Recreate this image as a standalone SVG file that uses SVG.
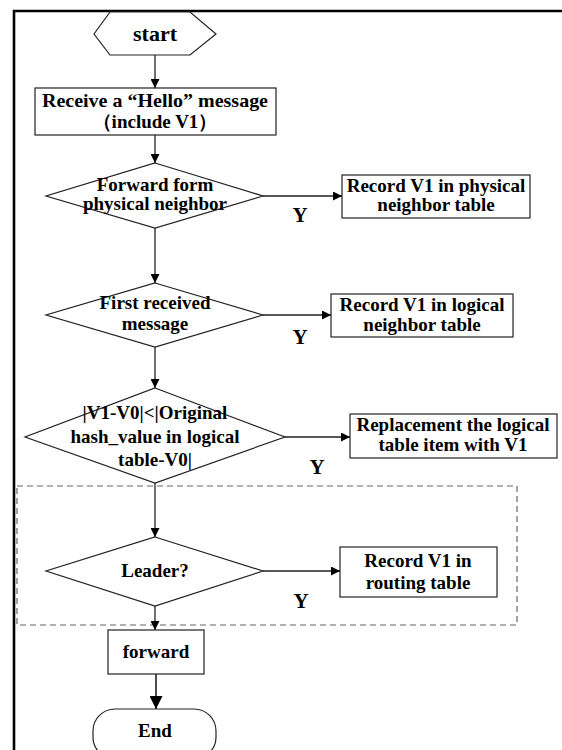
<svg xmlns="http://www.w3.org/2000/svg" width="562" height="750" viewBox="0 0 562 750">
  <defs>
    <marker id="arrow" viewBox="0 0 10 10" refX="10" refY="5" markerWidth="10" markerHeight="9" markerUnits="userSpaceOnUse" orient="auto">
      <path d="M0,0 L10,5 L0,10 z" fill="#000"/>
    </marker>
    <marker id="arrowBig" viewBox="0 0 10 10" refX="10" refY="5" markerWidth="15" markerHeight="13" markerUnits="userSpaceOnUse" orient="auto">
      <path d="M0,0 L10,5 L0,10 z" fill="#000"/>
    </marker>
  </defs>
  <style>
    .shape { fill: #fff; stroke: #222; stroke-width: 1.2; }
    .edge { fill: none; stroke: #222; stroke-width: 1.3; marker-end: url(#arrow); }
    .edge-big { fill: none; stroke: #222; stroke-width: 1.6; marker-end: url(#arrowBig); }
    .label { font-family: "Liberation Serif", "Times New Roman", serif; font-weight: bold; font-size: 19px; fill: #000; text-anchor: middle; }
    .yes { font-family: "Liberation Serif", "Times New Roman", serif; font-weight: bold; font-size: 21px; fill: #000; text-anchor: middle; }
  </style>

  <rect x="0" y="0" width="562" height="750" fill="#fff"/>

  <!-- outer frame (top and left edges) -->
  <path d="M14,750 L14,11 L562,11" fill="none" stroke="#000" stroke-width="2.6"/>

  <!-- leader check region -->
  <rect id="leader-region" x="17" y="486" width="500" height="139" fill="none" stroke="#666" stroke-width="1.2" stroke-dasharray="6,4"/>

  <g id="start">
    <polygon class="shape" points="94,34 110,12 190,12 216,34 190,55 110,55"/>
    <text class="label" x="155" y="41" style="font-size:22px">start</text>
  </g>

  <g id="receive">
    <rect class="shape" x="35" y="88" width="241" height="47"/>
    <text class="label" x="155" y="107" textLength="226" lengthAdjust="spacingAndGlyphs">Receive a “Hello”  message</text>
    <text class="label" x="155" y="128">（include V1）</text>
  </g>

  <g id="forward-check">
    <polygon class="shape" points="155,163 263,196 155,228 46,196"/>
    <text class="label" x="155" y="191">Forward form</text>
    <text class="label" x="155" y="210">physical neighbor</text>
  </g>

  <g id="record-physical">
    <rect class="shape" x="342" y="175" width="188" height="43"/>
    <text class="label" x="436" y="192">Record V1 in physical</text>
    <text class="label" x="436" y="211">neighbor table</text>
  </g>

  <g id="first-check">
    <polygon class="shape" points="155,283 263,315 155,347 46,315"/>
    <text class="label" x="155" y="309">First received</text>
    <text class="label" x="155" y="330">message</text>
  </g>

  <g id="record-logical">
    <rect class="shape" x="331" y="294" width="182" height="43"/>
    <text class="label" x="422" y="311">Record V1 in logical</text>
    <text class="label" x="422" y="331">neighbor table</text>
  </g>

  <g id="hash-check">
    <polygon class="shape" points="155,388 285,437 155,483 25,437"/>
    <text class="label" x="155" y="419">|V1-V0|&lt;|Original</text>
    <text class="label" x="155" y="443">hash_value in logical</text>
    <text class="label" x="155" y="466">table-V0|</text>
  </g>

  <g id="replace-logical">
    <rect class="shape" x="350" y="414" width="207" height="44"/>
    <text class="label" x="453" y="431">Replacement the logical</text>
    <text class="label" x="453" y="451">table item with V1</text>
  </g>

  <g id="leader-check">
    <polygon class="shape" points="155,537 263,571 155,606 46,571"/>
    <text class="label" x="155" y="577">Leader?</text>
  </g>

  <g id="record-routing">
    <rect class="shape" x="340" y="547" width="157" height="50"/>
    <text class="label" x="418" y="567">Record V1 in</text>
    <text class="label" x="418" y="589">routing table</text>
  </g>

  <g id="forward">
    <rect class="shape" x="108" y="630" width="96" height="44"/>
    <text class="label" x="156" y="658">forward</text>
  </g>

  <g id="end">
    <rect class="shape" x="93" y="709" width="123" height="50" rx="22" ry="22"/>
    <text class="label" x="155" y="737">End</text>
  </g>

  <g id="connectors">
    <line class="edge" x1="155" y1="55" x2="155" y2="88"/>
    <line class="edge" x1="155" y1="135" x2="155" y2="163"/>
    <line class="edge" x1="263" y1="196" x2="342" y2="196"/>
    <line class="edge" x1="155" y1="228" x2="155" y2="283"/>
    <line class="edge" x1="263" y1="315" x2="331" y2="315"/>
    <line class="edge" x1="155" y1="347" x2="155" y2="388"/>
    <line class="edge" x1="285" y1="437" x2="350" y2="437"/>
    <line class="edge" x1="155" y1="483" x2="155" y2="537"/>
    <line class="edge" x1="263" y1="571" x2="340" y2="571"/>
    <line class="edge" x1="155" y1="606" x2="155" y2="630"/>
    <line class="edge-big" x1="156" y1="674" x2="156" y2="709"/>
  </g>

  <g id="yes-labels">
    <text class="yes" x="300" y="222">Y</text>
    <text class="yes" x="300" y="344">Y</text>
    <text class="yes" x="317" y="474">Y</text>
    <text class="yes" x="301" y="608">Y</text>
  </g>
</svg>
